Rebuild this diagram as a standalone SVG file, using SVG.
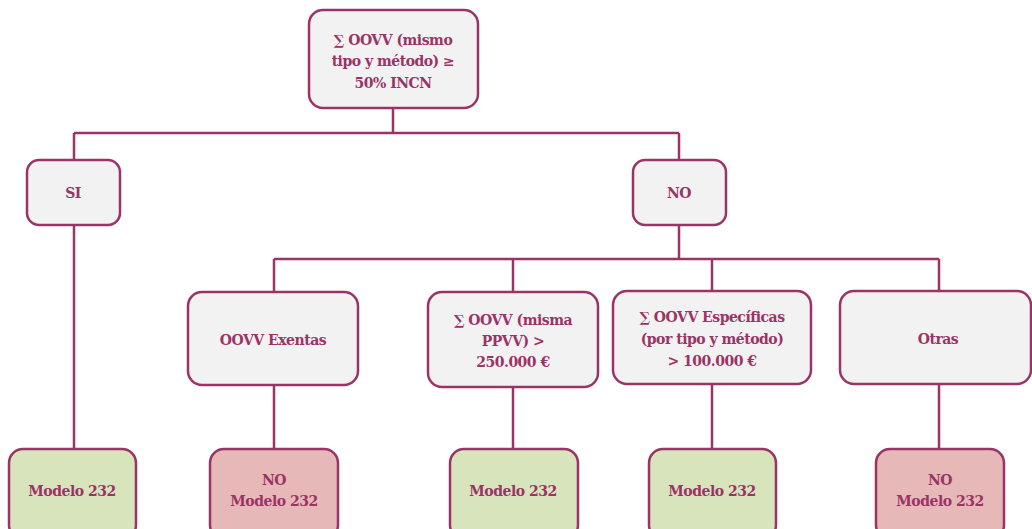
<svg xmlns="http://www.w3.org/2000/svg" width="1032" height="529" viewBox="0 0 1032 529">
<style>
.box{fill:#F2F2F2;stroke:#9B3366;stroke-width:2.5}
.yes{fill:#D8E4BC;stroke:#9B3366;stroke-width:2.5}
.no{fill:#E6B8B7;stroke:#9B3366;stroke-width:2.5}
.ln{fill:none;stroke:#9B3366;stroke-width:2.5}
.t{font-family:"DejaVu Serif",serif;font-weight:bold;font-size:14px;fill:#9B3366;text-anchor:middle;letter-spacing:-0.5px}
</style>
<rect width="1032" height="529" fill="#FFFFFF"/>
<g id="connectors">
<path class="ln" d="M393,108 V133 M74,133 H679 M74,133 V160 M679,133 V160"/>
<path class="ln" d="M74,225 V449"/>
<path class="ln" d="M679,225 V259 M274,259 H939 M274,259 V292 M513,259 V292 M712,259 V291 M939,259 V291"/>
<path class="ln" d="M274,385 V449 M513,387 V449 M712,384 V449 M939,384 V449"/>
</g>
<g id="root">
<rect class="box" x="309" y="10" width="169" height="98" rx="14"/>
<text class="t" x="393" y="45">∑ OOVV (mismo</text>
<text class="t" x="393" y="66">tipo y método) ≥</text>
<text class="t" x="393" y="88">50% INCN</text>
</g>
<g id="si">
<rect class="box" x="27" y="160" width="93" height="65" rx="12"/>
<text class="t" x="73" y="198">SI</text>
</g>
<g id="no">
<rect class="box" x="633" y="160" width="93" height="65" rx="12"/>
<text class="t" x="679" y="198">NO</text>
</g>
<g id="exentas">
<rect class="box" x="188" y="292" width="170" height="93" rx="14"/>
<text class="t" x="273" y="345">OOVV Exentas</text>
</g>
<g id="misma">
<rect class="box" x="428" y="292" width="170" height="95" rx="14"/>
<text class="t" x="513" y="325">∑ OOVV (misma</text>
<text class="t" x="513" y="346">PPVV) &gt;</text>
<text class="t" x="513" y="367">250.000 €</text>
</g>
<g id="especificas">
<rect class="box" x="613" y="291" width="198" height="93" rx="14"/>
<text class="t" x="712" y="322">∑ OOVV Específicas</text>
<text class="t" x="712" y="344">(por tipo y  método)</text>
<text class="t" x="712" y="366">&gt; 100.000  €</text>
</g>
<g id="otras">
<rect class="box" x="840" y="291" width="191" height="93" rx="14"/>
<text class="t" x="938" y="344">Otras</text>
</g>
<g id="m1">
<rect class="yes" x="9" y="449" width="127" height="90" rx="14"/>
<text class="t" x="72" y="496">Modelo 232</text>
</g>
<g id="m2">
<rect class="no" x="210" y="449" width="128" height="90" rx="14"/>
<text class="t" x="274" y="485">NO</text>
<text class="t" x="274" y="506">Modelo 232</text>
</g>
<g id="m3">
<rect class="yes" x="450" y="449" width="128" height="90" rx="14"/>
<text class="t" x="513" y="496">Modelo 232</text>
</g>
<g id="m4">
<rect class="yes" x="649" y="449" width="127" height="90" rx="14"/>
<text class="t" x="712" y="496">Modelo 232</text>
</g>
<g id="m5">
<rect class="no" x="876" y="449" width="128" height="90" rx="14"/>
<text class="t" x="940" y="485">NO</text>
<text class="t" x="940" y="506">Modelo 232</text>
</g>
</svg>
